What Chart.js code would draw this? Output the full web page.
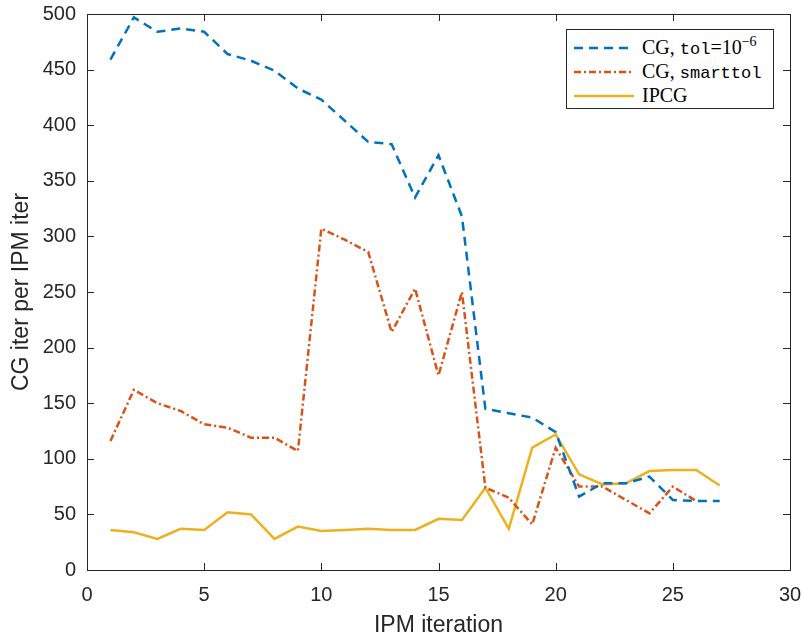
<!DOCTYPE html>
<html>
<head>
<meta charset="utf-8">
<script src="https://cdn.jsdelivr.net/npm/chart.js@4.4.0/dist/chart.umd.min.js"></script>
<style>
body { margin: 0; background: #fff; }
#wrap { position: relative; width: 805px; height: 639px; }
#legend { position: absolute; left: 566px; top: 29px; width: 208px; height: 80px; border: 1px solid #262626;
  background: #fff; box-sizing: border-box; font-family: "Liberation Serif", serif; font-size: 20px; color: #000; }
.row { position: absolute; left: 0; width: 100%; height: 24px; }
.row svg { position: absolute; left: 6px; top: 11px; }
.row .t { position: absolute; left: 75px; top: 0; line-height: 24px; white-space: nowrap; }
.mono { font-family: "Liberation Mono", monospace; font-size: 17px; }
sup { font-size: 14px; vertical-align: 8px; line-height: 0; }
</style>
</head>
<body>
<div id="wrap">
  <canvas id="myChart" width="805" height="639"></canvas>
  <div id="legend">
    <div class="row" style="top:5px">
      <svg width="62" height="4"><line x1="1" y1="2" x2="61" y2="2" stroke="#0072BD" stroke-width="2.5" stroke-dasharray="9,6"/></svg>
      <span class="t">CG, <span class="mono">tol</span>=10<sup>&minus;6</sup></span>
    </div>
    <div class="row" style="top:29px">
      <svg width="62" height="4"><line x1="1" y1="2" x2="61" y2="2" stroke="#D95319" stroke-width="2.5" stroke-dasharray="7,3,2,3"/></svg>
      <span class="t">CG, <span class="mono">smarttol</span></span>
    </div>
    <div class="row" style="top:53px">
      <svg width="62" height="4"><line x1="1" y1="2" x2="61" y2="2" stroke="#EDB120" stroke-width="2.5"/></svg>
      <span class="t">IPCG</span>
    </div>
  </div>
</div>
<script>
// IPM iteration numbers
var ipmIter = [1,2,3,4,5,6,7,8,9,10,11,12,13,14,15,16,17,18,19,20,21,22,23,24,25,26,27];

// CG iterations per IPM iteration
var cgTol   = [459,497,484,487,484,464,458,449,433,423,404,385,383,335,373,318,145,141,137,124,66,78,78,84,63,62,62];
var cgSmart = [116,162,150,143,131,128,119,119,107,307,297,286,214,253,175,250,74,65,41,110,75,75,63,51,75,62];
var ipcg    = [36,34,28,37,36,52,50,28,39,35,36,37,36,36,46,45,74,37,110,122,86,77,78,89,90,90,76];

var xTicks = [0,5,10,15,20,25,30];
var yTicks = [0,50,100,150,200,250,300,350,400,450,500];

function toPoints(vals) {
	var pts = new Array();
	vals.forEach(function(v, i) {
		pts.push({ x: ipmIter[i], y: v });
	});
	return pts;
}

var axisColor = '#262626';

// matlab style box with inward ticks
var boxPlugin = {
	id: 'matlabBox',
	afterDatasetsDraw: function(chart) {
		var ctx = chart.ctx;
		var a = chart.chartArea;
		var xs = chart.scales.x;
		var ys = chart.scales.y;
		ctx.save();
		ctx.strokeStyle = axisColor;
		ctx.lineWidth = 1;
		ctx.beginPath();
		xTicks.forEach(function(t) {
			var p = Math.round(xs.getPixelForValue(t)) + 0.5;
			ctx.moveTo(p, a.bottom); ctx.lineTo(p, a.bottom - 7);
			ctx.moveTo(p, a.top); ctx.lineTo(p, a.top + 7);
		});
		yTicks.forEach(function(t) {
			var p = Math.round(ys.getPixelForValue(t)) + 0.5;
			ctx.moveTo(a.left, p); ctx.lineTo(a.left + 7, p);
			ctx.moveTo(a.right, p); ctx.lineTo(a.right - 7, p);
		});
		ctx.stroke();
		ctx.strokeRect(Math.round(a.left) + 0.5, Math.round(a.top) + 0.5, Math.round(a.right - a.left), Math.round(a.bottom - a.top));
		ctx.restore();
	}
};

var _config = {
	type: 'line',
	data: {
		datasets: [
			{
				label: 'CG, tol=10^-6',
				data: toPoints(cgTol),
				borderColor: '#0072BD',
				borderWidth: 2.5,
				borderDash: [9, 6],
				pointRadius: 0,
				fill: false,
				tension: 0
			},
			{
				label: 'CG, smarttol',
				data: toPoints(cgSmart),
				borderColor: '#D95319',
				borderWidth: 2.5,
				borderDash: [7, 3, 2, 3],
				pointRadius: 0,
				fill: false,
				tension: 0
			},
			{
				label: 'IPCG',
				data: toPoints(ipcg),
				borderColor: '#EDB120',
				borderWidth: 2.5,
				pointRadius: 0,
				fill: false,
				tension: 0
			}
		]
	},
	options: {
		responsive: false,
		animation: false,
		layout: {
			padding: { top: 14, right: 15, left: 0, bottom: 0 }
		},
		plugins: {
			legend: { display: false },
			tooltip: { enabled: false }
		},
		scales: {
			x: {
				type: 'linear',
				min: 0,
				max: 30,
				afterFit: function(scale) {
					scale.height = 69;
					scale.paddingLeft = 0;
					scale.paddingRight = 0;
				},
				afterBuildTicks: function(scale) {
					scale.ticks = xTicks.map(function(v) { return { value: v }; });
				},
				ticks: {
					color: axisColor,
					padding: 13,
					maxRotation: 0,
					font: { family: 'Liberation Sans', size: 20 }
				},
				grid: { drawOnChartArea: false, drawTicks: false },
				border: { display: false },
				title: {
					display: true,
					text: 'IPM iteration',
					color: axisColor,
					padding: { top: 0, bottom: 0 },
					font: { family: 'Liberation Sans', size: 23 }
				}
			},
			y: {
				type: 'linear',
				min: 0,
				max: 500,
				afterFit: function(scale) {
					scale.width = 87;
					scale.paddingTop = 0;
					scale.paddingBottom = 0;
				},
				afterBuildTicks: function(scale) {
					scale.ticks = yTicks.map(function(v) { return { value: v }; });
				},
				ticks: {
					color: axisColor,
					padding: 11,
					font: { family: 'Liberation Sans', size: 20 }
				},
				grid: { drawOnChartArea: false, drawTicks: false },
				border: { display: false },
				title: {
					display: true,
					text: 'CG iter per IPM iter',
					color: axisColor,
					padding: { top: 8, bottom: 0 },
					font: { family: 'Liberation Sans', size: 23 }
				}
			}
		}
	},
	plugins: [boxPlugin]
};

var myChart = new Chart(document.getElementById('myChart'), _config);
</script>
</body>
</html>
